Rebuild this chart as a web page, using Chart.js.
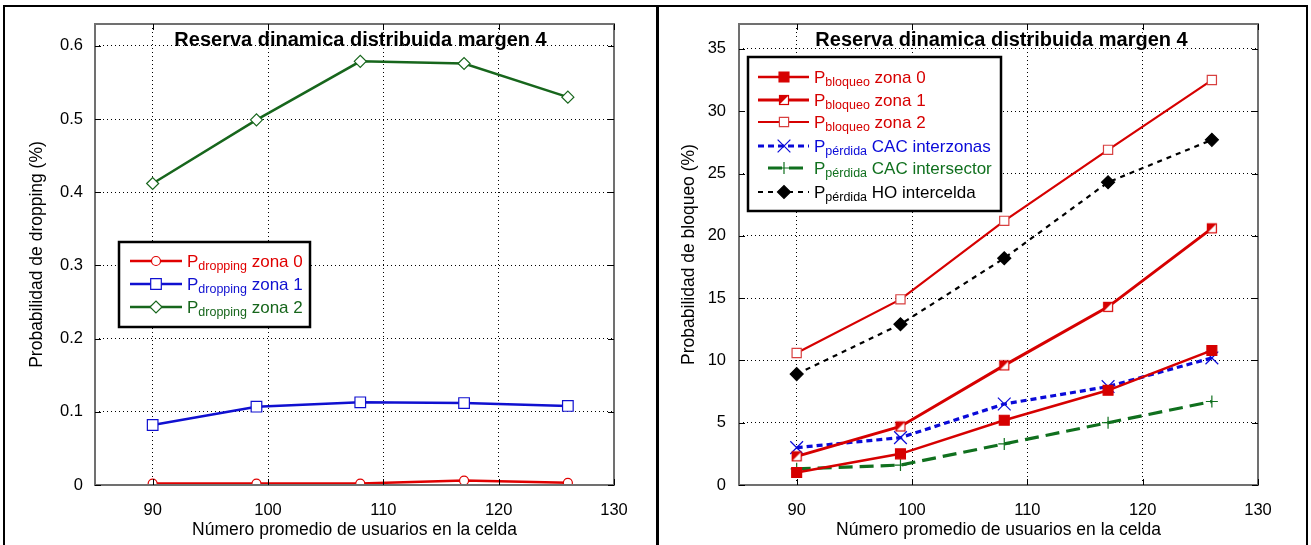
<!DOCTYPE html>
<html>
<head>
<meta charset="utf-8">
<script src="https://cdn.jsdelivr.net/npm/chart.js@4.4.0/dist/chart.umd.min.js"></script>
<style>
  body { margin: 0; background: #fff; width: 1311px; height: 545px; overflow: hidden; position: relative; }
  .panel { position: absolute; top: 5px; height: 560px; border: 2px solid #000; box-sizing: border-box; }
  #p1 { left: 3px; width: 656px; }
  #p2 { left: 656px; width: 652px; }
  canvas { position: absolute; }
  #c1 { left: 7px; top: 8px; }
  #c2 { left: 661px; top: 8px; }
</style>
</head>
<body>
<div class="panel" id="p1"></div>
<div class="panel" id="p2"></div>
<canvas id="c1" width="648" height="537"></canvas>
<canvas id="c2" width="644" height="537"></canvas>
<script>
const FONT = 'Arial, "Liberation Sans", sans-serif';

// usuarios por celda (eje x comun)
const xUsers = [90, 99, 108, 117, 126];
const xTicks = [90, 100, 110, 120, 130];

// probabilidad de dropping (%)
const dropTicks = [0, 0.1, 0.2, 0.3, 0.4, 0.5, 0.6];
const dropZona0 = [0.002, 0.002, 0.002, 0.006, 0.003];
const dropZona1 = [0.082, 0.107, 0.113, 0.112, 0.108];
const dropZona2 = [0.412, 0.499, 0.579, 0.576, 0.530];
const dropSubs = ['dropping', 'dropping', 'dropping'];
const dropNames = ['zona 0', 'zona 1', 'zona 2'];

// probabilidad de bloqueo (%)
const bloqTicks = [0, 5, 10, 15, 20, 25, 30, 35];
const bloqZona0 = [1.0, 2.5, 5.2, 7.6, 10.8];
const bloqZona1 = [2.3, 4.7, 9.6, 14.3, 20.6];
const bloqZona2 = [10.6, 14.9, 21.2, 26.9, 32.5];
const perdInterzonas = [3.0, 3.8, 6.5, 7.9, 10.2];
const perdIntersector = [1.3, 1.6, 3.3, 5.0, 6.7];
const perdHO = [8.9, 12.9, 18.2, 24.3, 27.7];
const bloqSubs = ['bloqueo', 'bloqueo', 'bloqueo', 'pérdida', 'pérdida', 'pérdida'];
const bloqNames = ['zona 0', 'zona 1', 'zona 2', 'CAC interzonas', 'CAC intersector', 'HO intercelda'];

const TITLE = 'Reserva dinamica distribuida margen 4';

// cuadrado medio relleno para zona 1
function halfSquare(color) {
  const c = document.createElement('canvas');
  c.width = 12; c.height = 12;
  const g = c.getContext('2d');
  g.fillStyle = '#fff';
  g.fillRect(1, 1, 10, 10);
  g.fillStyle = color;
  g.beginPath(); g.moveTo(1, 1); g.lineTo(11, 1); g.lineTo(1, 11); g.closePath(); g.fill();
  g.strokeStyle = color; g.lineWidth = 1.2;
  g.strokeRect(1.5, 1.5, 9, 9);
  return c;
}

function series(label, ys, color, extra) {
  return Object.assign({
    label: label,
    data: xUsers.map((x, i) => ({ x: x, y: ys[i] })),
    borderColor: color,
    pointBorderColor: color,
    pointBackgroundColor: '#fff',
    borderWidth: 2.5,
    pointBorderWidth: 1.2,
    pointRadius: 5,
    tension: 0,
    fill: false
  }, extra);
}

function axes(yMax, yTicks, yTitle, yTitlePad, yTickPad, yWidth) {
  const tickFont = { family: FONT, size: 16.5 };
  const titleFont = { family: FONT, size: 17.5 };
  return {
    x: {
      type: 'linear', min: 85, max: 130,
      afterBuildTicks: a => { a.ticks = xTicks.map(v => ({ value: v })); },
      afterFit: a => { a.height = 60; a.paddingLeft = 0; a.paddingRight = 0; },
      grid: { color: '#000', lineWidth: 1, drawTicks: false },
      border: { display: false, dash: [1, 3] },
      ticks: { color: '#000', font: tickFont, padding: 16, maxRotation: 0, callback: v => String(v) },
      title: { display: true, text: 'Número promedio de usuarios en la celda', color: '#000', font: titleFont, padding: { top: 0, bottom: 4 } }
    },
    y: {
      type: 'linear', min: 0, max: yMax,
      afterBuildTicks: a => { a.ticks = yTicks.map(v => ({ value: v })); },
      // sin margen extra por las etiquetas extremas
      afterFit: a => { a.width = yWidth; a.paddingTop = 0; a.paddingBottom = 0; },
      grid: { color: '#000', lineWidth: 1, drawTicks: false },
      border: { display: false, dash: [1, 3] },
      ticks: { color: '#000', font: tickFont, padding: yTickPad, callback: v => String(v) },
      title: { display: true, text: yTitle, color: '#000', font: titleFont, padding: { top: yTitlePad, bottom: 0 } }
    }
  };
}

// marco, marcas de eje, titulo y leyenda dentro del area del grafico
const framePlugin = {
  id: 'frame',
  afterDraw(chart, args, opts) {
    const { ctx, chartArea: a, scales } = chart;
    ctx.save();
    ctx.setLineDash([]);
    ctx.strokeStyle = '#707070';
    ctx.lineWidth = 2;
    ctx.strokeRect(a.left, a.top, a.right - a.left, a.bottom - a.top);
    ctx.strokeStyle = '#000';
    ctx.lineWidth = 1;
    ctx.beginPath();
    scales.x.ticks.forEach(t => {
      const px = Math.round(scales.x.getPixelForValue(t.value)) + 0.5;
      ctx.moveTo(px, a.bottom); ctx.lineTo(px, a.bottom - 6);
      ctx.moveTo(px, a.top); ctx.lineTo(px, a.top + 6);
    });
    scales.y.ticks.forEach(t => {
      const py = Math.round(scales.y.getPixelForValue(t.value)) + 0.5;
      ctx.moveTo(a.left, py); ctx.lineTo(a.left + 6, py);
      ctx.moveTo(a.right, py); ctx.lineTo(a.right - 6, py);
    });
    ctx.stroke();

    // titulo
    ctx.fillStyle = '#000';
    ctx.font = 'bold 20px ' + FONT;
    ctx.textAlign = 'center';
    ctx.textBaseline = 'alphabetic';
    ctx.fillText(TITLE, (a.left + a.right) / 2 + opts.titleDx, 38);

    // leyenda
    const L = opts.legend;
    ctx.fillStyle = '#fff';
    ctx.fillRect(L.x, L.y, L.w, L.h);
    ctx.strokeStyle = '#000';
    ctx.lineWidth = 2.5;
    ctx.strokeRect(L.x, L.y, L.w, L.h);
    ctx.textAlign = 'left';
    chart.data.datasets.forEach((ds, i) => {
      const y = L.rows[i];
      ctx.strokeStyle = ds.borderColor;
      ctx.lineWidth = ds.borderWidth;
      ctx.setLineDash(ds.borderDash || []);
      ctx.beginPath();
      ctx.moveTo(L.lineX0 + (ds.legendInset || 0), y);
      ctx.lineTo(L.lineX1, y);
      ctx.stroke();
      ctx.setLineDash([]);
      ctx.fillStyle = ds.pointBackgroundColor;
      ctx.strokeStyle = ds.pointBorderColor;
      ctx.lineWidth = ds.pointBorderWidth;
      Chart.helpers.drawPoint(ctx, { pointStyle: ds.pointStyle || 'circle', radius: ds.pointRadius, rotation: 0, borderWidth: ds.pointBorderWidth }, L.markX, y);

      ctx.fillStyle = ds.textColor || ds.borderColor;
      let tx = L.textX;
      ctx.font = '17px ' + FONT;
      ctx.fillText('P', tx, y + 6);
      tx += ctx.measureText('P').width;
      ctx.font = '12.5px ' + FONT;
      ctx.fillText(opts.subs[i], tx, y + 9);
      tx += ctx.measureText(opts.subs[i]).width;
      ctx.font = '17px ' + FONT;
      ctx.fillText(' ' + opts.names[i], tx, y + 6);
    });
    ctx.restore();
  }
};

const common = {
  type: 'line',
  plugins: [framePlugin]
};

const redL = '#e00000', blueL = '#1010d0', greenL = '#17661c';

new Chart(document.getElementById('c1'), Object.assign({}, common, {
  data: {
    datasets: [
      series('Pdropping zona 0', dropZona0, redL, { pointStyle: 'circle', pointRadius: 4.5 }),
      series('Pdropping zona 1', dropZona1, blueL, { pointStyle: 'rect', pointRadius: 7.5 }),
      series('Pdropping zona 2', dropZona2, greenL, { pointStyle: 'rectRot', pointRadius: 6 })
    ]
  },
  options: {
    responsive: false,
    animation: false,
    layout: { padding: { left: 0, right: 41, top: 16, bottom: 0 } },
    scales: axes(0.63, dropTicks, 'Probabilidad de dropping (%)', 19.5, 12, 88),
    plugins: {
      legend: { display: false },
      tooltip: { enabled: false },
      frame: {
        titleDx: 6,
        subs: dropSubs,
        names: dropNames,
        legend: { x: 112, y: 234, w: 191, h: 85, rows: [253, 276, 299], lineX0: 123, lineX1: 175, markX: 149, textX: 180 }
      }
    }
  }
}));

const redR = '#d60000', blueR = '#0a0ad8', greenR = '#10701e';

new Chart(document.getElementById('c2'), Object.assign({}, common, {
  data: {
    datasets: [
      series('Pbloqueo zona 0', bloqZona0, redR, { pointStyle: 'rect', pointRadius: 7, pointBackgroundColor: redR }),
      series('Pbloqueo zona 1', bloqZona1, redR, { pointStyle: halfSquare(redR), borderWidth: 3 }),
      series('Pbloqueo zona 2', bloqZona2, redR, { pointStyle: 'rect', pointRadius: 6.5, pointBorderColor: '#d84040', borderWidth: 2.2 }),
      series('Ppérdida CAC interzonas', perdInterzonas, blueR, { pointStyle: 'crossRot', pointRadius: 9, borderWidth: 3.2, borderDash: [6, 4] }),
      series('Ppérdida CAC intersector', perdIntersector, greenR, { pointStyle: 'cross', pointRadius: 6, borderWidth: 3.2, borderDash: [14, 7], legendInset: 10 }),
      series('Ppérdida HO intercelda', perdHO, '#000', { pointStyle: 'rectRot', pointRadius: 6.5, pointBackgroundColor: '#000', borderWidth: 2.2, borderDash: [5, 5] })
    ]
  },
  options: {
    responsive: false,
    animation: false,
    layout: { padding: { left: 0, right: 47, top: 16, bottom: 0 } },
    scales: axes(37, bloqTicks, 'Probabilidad de bloqueo (%)', 17.5, 13, 78),
    plugins: {
      legend: { display: false },
      tooltip: { enabled: false },
      frame: {
        titleDx: 3,
        subs: bloqSubs,
        names: bloqNames,
        legend: { x: 87, y: 49, w: 253, h: 154, rows: [69, 92, 114, 138, 160, 184], lineX0: 97, lineX1: 148, markX: 123, textX: 153 }
      }
    }
  }
}));
</script>
</body>
</html>
